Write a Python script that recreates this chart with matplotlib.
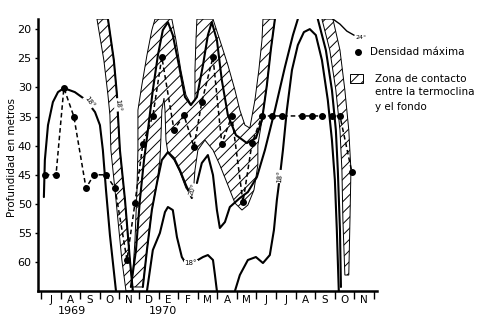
import matplotlib
matplotlib.use("Agg")
import matplotlib.pyplot as plt
from matplotlib.patches import Rectangle
from matplotlib.lines import Line2D

# x = months since 1 July 1969, y = depth in metres
meses = ["J", "A", "S", "O", "N", "D", "E", "F", "M", "A", "M", "J", "J", "A", "S", "O", "N"]
anios = ["1969", "1970"]
anios_x = [1.58, 6.22]
prof_ticks = [20, 25, 30, 35, 40, 45, 50, 55, 60]

# density maxima (dots joined by dashed line)
dens_mes = [0.20, 0.77, 1.17, 1.68, 2.30, 2.70, 3.32, 3.78, 4.39, 4.80, 5.20, 5.71, 6.17,
            6.79, 7.30, 7.81, 8.21, 8.78, 9.23, 9.74, 10.31, 10.77, 11.28, 11.79, 12.30,
            13.32, 13.83, 14.34, 14.85, 15.26, 15.87]
dens_prof = [45.0, 45.0, 30.1, 35.0, 47.3, 45.0, 45.0, 47.3, 59.6, 49.8, 39.7, 34.9, 24.8,
             37.3, 34.8, 40.2, 32.5, 24.8, 39.7, 34.9, 49.7, 39.6, 34.9, 34.9, 34.9,
             34.9, 34.9, 34.9, 34.9, 34.9, 44.6]

# isotherms
iso18a_x = [0.15, 0.20, 0.36, 0.61, 0.87, 1.17, 1.73, 2.30, 2.76, 3.01, 3.16, 3.32, 3.52, 3.83]
iso18a_y = [48.82, 42.47, 36.47, 32.52, 30.81, 30.12, 30.81, 32.18, 34.24, 36.47, 40.75, 47.62, 55.33, 64.94]

iso20_x = [4.59, 4.85, 5.05, 5.26, 5.46, 5.71, 5.97, 6.22, 6.48, 6.73, 7.04, 7.35, 7.65, 7.96,
           8.27, 8.52, 8.72, 8.98, 9.23, 9.54, 9.95, 10.51, 10.97, 11.28, 11.53, 11.73, 11.94]
iso20_y = [64.25, 57.91, 49.33, 42.47, 37.32, 30.46, 24.46, 20.17, 18.80, 21.03, 26.17, 31.66,
           33.04, 31.66, 26.17, 21.03, 18.80, 21.89, 28.75, 34.75, 38.18, 39.55, 38.70, 35.61,
           29.61, 23.60, 18.28]

iso20b_x = [5.20, 5.41, 5.66, 5.92, 6.17, 6.48, 6.79, 7.09, 7.40, 7.70]
iso20b_y = [64.25, 57.91, 51.05, 46.41, 42.47, 41.10, 42.13, 44.19, 46.76, 48.99]
iso20c_x = [7.96, 8.21, 8.52, 8.78, 8.98, 9.13, 9.39, 9.64, 10.15, 10.56, 11.02, 11.43, 11.94,
            12.45, 12.86, 13.11]
iso20c_y = [46.41, 42.98, 41.61, 45.04, 51.05, 54.13, 53.10, 50.53, 48.99, 47.96, 45.39, 40.75,
            33.89, 26.52, 21.03, 18.28]

iso18b_x = [5.41, 5.71, 6.07, 6.33, 6.48, 6.73, 6.94, 7.19, 7.35]
iso18b_y = [64.94, 57.91, 54.99, 51.39, 50.53, 51.05, 55.68, 59.11, 59.97]
iso18c_x = [8.01, 8.27, 8.52, 8.78, 8.88, 8.98]
iso18c_y = [59.62, 59.11, 58.77, 59.62, 62.20, 64.94]

iso18d_x = [9.90, 10.15, 10.56, 10.97, 11.33, 11.68, 11.89, 12.04, 12.19, 12.35, 12.55, 12.81,
            13.11, 13.42, 13.72, 14.03, 14.34, 14.64, 14.85, 15.00, 15.10, 15.20]
iso18d_y = [64.94, 62.20, 59.62, 59.11, 60.14, 58.77, 54.48, 49.33, 45.39, 40.75, 33.89, 27.03,
            22.74, 20.51, 20.00, 21.03, 25.32, 32.18, 39.04, 45.90, 54.48, 64.94]

iso_ext_x = [14.13, 14.54, 14.85, 15.05, 15.15, 15.26, 15.31]
iso_ext_y = [18.28, 23.60, 30.46, 37.32, 44.19, 54.48, 64.25]

iso24_x = [14.90, 15.26, 15.61, 15.97]
iso24_y = [18.28, 19.14, 20.34, 21.03]

# contact zones (hatched)
zonaA_izq_x = [2.86, 3.21, 3.42, 3.52, 3.57, 3.83, 4.13, 4.34]
zonaA_izq_y = [18.28, 25.32, 31.32, 34.75, 40.75, 49.33, 59.62, 64.94]
zonaA_der_x = [3.42, 3.72, 3.88, 3.93, 4.03, 4.29, 4.54, 4.69]
zonaA_der_y = [18.28, 25.32, 31.32, 34.75, 40.75, 49.33, 59.62, 64.94]

zonaB_x = [4.64, 4.80, 4.90, 4.95, 4.95, 5.15, 5.41, 5.66, 5.82, 6.68, 6.89, 7.14, 7.40, 7.65,
           7.86, 7.86, 7.91, 7.96, 8.78, 9.13, 9.54, 9.90, 10.15, 10.41, 10.66, 10.92, 11.12,
           11.28, 11.33, 11.94, 11.73, 11.53, 11.28, 11.07, 11.07, 10.87, 10.56, 10.26, 9.90,
           9.54, 9.13, 8.78, 8.37, 8.01, 7.86, 7.76, 7.40, 7.09, 6.79, 6.48, 6.38, 6.33, 6.28,
           6.17, 6.12, 6.07, 5.92, 5.66, 5.41, 5.20]
zonaB_y = [64.25, 56.19, 47.62, 40.75, 33.89, 29.61, 24.46, 20.17, 18.28, 18.28, 21.89, 27.03,
           31.32, 32.86, 32.18, 27.03, 21.89, 18.28, 18.28, 21.89, 26.17, 30.46, 33.89, 36.47,
           36.98, 32.18, 27.03, 21.89, 18.28, 18.28, 23.60, 29.61, 35.61, 39.90, 43.33, 47.62,
           50.19, 51.05, 49.85, 46.76, 43.33, 40.75, 39.04, 40.75, 44.19, 48.82, 47.27, 44.53,
           42.47, 41.27, 39.04, 33.89, 31.84, 33.89, 39.04, 42.47, 46.41, 51.05, 57.91, 64.25]

zonaC_izq_x = [14.34, 14.74, 15.05, 15.26, 15.36, 15.41, 15.51]
zonaC_izq_y = [18.28, 23.60, 30.46, 37.32, 44.19, 52.76, 62.20]
zonaC_der_x = [14.90, 15.26, 15.51, 15.71, 15.82, 15.77, 15.71]
zonaC_der_y = [18.28, 23.60, 30.46, 37.32, 44.19, 52.76, 62.20]

esquina_x = [-0.15, 0.71, -0.15]
esquina_y = [18.28, 18.28, 20.69]

plt.rcParams["hatch.linewidth"] = 0.7
plt.rcParams["font.family"] = "DejaVu Sans"

fig = plt.figure(figsize=(5.0, 3.28), dpi=100)
ax = fig.add_axes([0.076, 0.1128, 0.678, 0.829])

hatch_kw = dict(facecolor="white", edgecolor="black", hatch="///", linewidth=0.7, zorder=1)
ax.fill(zonaA_izq_x + zonaA_der_x[::-1], zonaA_izq_y + zonaA_der_y[::-1], **hatch_kw)
ax.fill(zonaB_x, zonaB_y, **hatch_kw)
ax.fill(zonaC_izq_x + zonaC_der_x[::-1], zonaC_izq_y + zonaC_der_y[::-1], **hatch_kw)
ax.fill(esquina_x, esquina_y, facecolor="white", edgecolor="none", hatch="///", linewidth=0, zorder=1)

iso_kw = dict(color="black", linewidth=1.5, zorder=2, solid_capstyle="round")
ax.plot(iso18a_x, iso18a_y, **iso_kw)
ax.plot(zonaA_der_x, zonaA_der_y, **iso_kw)
ax.plot(iso20_x, iso20_y, **iso_kw)
ax.plot(iso20b_x, iso20b_y, **iso_kw)
ax.plot(iso20c_x, iso20c_y, **iso_kw)
ax.plot(iso18b_x, iso18b_y, **iso_kw)
ax.plot(iso18c_x, iso18c_y, **iso_kw)
ax.plot(iso18d_x, iso18d_y, **iso_kw)
ax.plot(iso_ext_x, iso_ext_y, **iso_kw)
ax.plot(iso24_x, iso24_y, color="black", linewidth=1.0, zorder=2)

# isotherm labels
lab_kw = dict(fontsize=5, ha="center", va="center", zorder=3,
              bbox=dict(facecolor="white", edgecolor="none", pad=0.3))
ax.text(2.45, 32.5, "18°", rotation=-55, **lab_kw)
ax.text(3.9, 33.0, "18°", rotation=-85, **lab_kw)
ax.text(7.75, 47.6, "20°", rotation=70, **lab_kw)
ax.text(7.65, 60.2, "18°", rotation=0, **lab_kw)
ax.text(12.2, 45.3, "18°", rotation=85, **lab_kw)
ax.text(16.35, 21.4, "24°", fontsize=4.5, ha="center", va="center", zorder=3)

ax.plot(dens_mes, dens_prof, color="black", linestyle=(0, (3, 2)), linewidth=1.1, zorder=3)
ax.plot(dens_mes, dens_prof, "o", color="black", markersize=4, zorder=4)

# axes
ax.set_xlim(-0.15, 17.15)
ax.set_ylim(64.94, 18.28)
ax.set_yticks(prof_ticks)
ax.set_yticklabels([str(p) for p in prof_ticks], fontsize=8)
ax.tick_params(axis="y", length=2.5, width=1, pad=2)
ax.set_xticks(range(0, len(meses) + 1))
ax.set_xticklabels([])
ax.tick_params(axis="x", which="major", length=6, width=1)
ax.set_xticks([i + 0.5 for i in range(len(meses))], minor=True)
ax.set_xticklabels(meses, minor=True, fontsize=7.5)
ax.tick_params(axis="x", which="minor", length=0, pad=3)
for s in ["top", "right"]:
    ax.spines[s].set_visible(False)
ax.spines["left"].set_linewidth(1.8)
ax.spines["bottom"].set_linewidth(1.8)
ax.set_facecolor("none")

for a, x in zip(anios, anios_x):
    ax.text(x, -0.075, a, transform=ax.get_xaxis_transform(), ha="center", va="center",
            fontsize=8)

fig.text(0.024, 0.52, "Profundidad en metros", rotation=90, ha="center", va="center", fontsize=7.5)

# legend drawn by hand
fig.lines.append(Line2D([0.716], [0.841], marker="o", color="black", markersize=4,
                        transform=fig.transFigure))
fig.text(0.74, 0.841, "Densidad máxima", ha="left", va="center", fontsize=7.5)
fig.patches.append(Rectangle((0.70, 0.747), 0.026, 0.027, transform=fig.transFigure,
                             facecolor="white", edgecolor="black", hatch="///", linewidth=0.7))
fig.text(0.75, 0.759, "Zona de contacto", ha="left", va="center", fontsize=7.5)
fig.text(0.75, 0.720, "entre la termoclina", ha="left", va="center", fontsize=7.5)
fig.text(0.75, 0.674, "y el fondo", ha="left", va="center", fontsize=7.5)

fig.savefig("out.png", dpi=100)
